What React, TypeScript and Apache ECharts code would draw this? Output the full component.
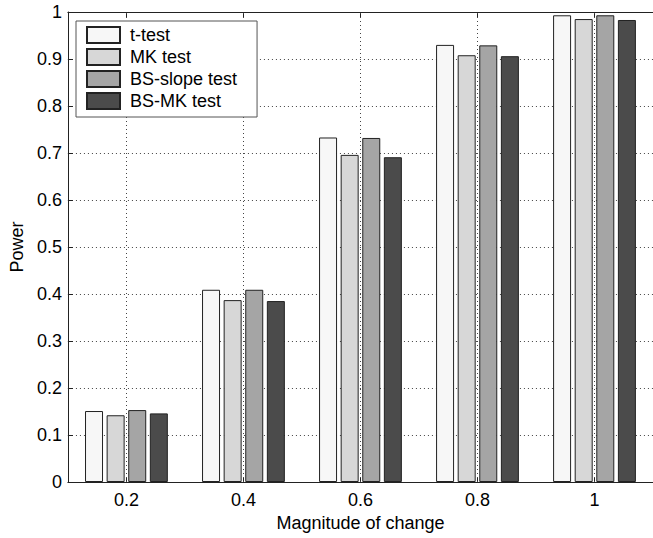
import React, { useEffect, useRef } from "react";
import * as echarts from "echarts";

const categories = ["0.2", "0.4", "0.6", "0.8", "1"];
const seriesNames = ["t-test", "MK test", "BS-slope test", "BS-MK test"];
const tTest = [0.151, 0.409, 0.733, 0.930, 0.993];
const mkTest = [0.142, 0.387, 0.696, 0.908, 0.985];
const bsSlope = [0.153, 0.409, 0.732, 0.929, 0.993];
const bsMk = [0.146, 0.385, 0.691, 0.906, 0.983];
const yTicks = [0, 0.1, 0.2, 0.3, 0.4, 0.5, 0.6, 0.7, 0.8, 0.9, 1];

const colors = ["#f7f7f7", "#d7d7d7", "#a5a5a5", "#4b4b4b"];
const FONT = "'Liberation Sans', Arial, sans-serif";

export default function App() {
  const ref = useRef<HTMLDivElement>(null);
  useEffect(() => {
    if (!ref.current) return;
    const chart = echarts.init(ref.current, null, { renderer: "svg" });
    const values = [tTest, mkTest, bsSlope, bsMk];
    const dotted = { color: "#444", width: 1, type: [1, 3] as any };
    const barSeries = seriesNames.map((name, i) => ({
      name,
      type: "bar",
      xAxisIndex: 0,
      data: values[i],
      barWidth: 18,
      barGap: "20%",
      z: 3,
      itemStyle: { color: colors[i], borderColor: "#222", borderWidth: 1 },
    }));
    chart.setOption({
      animation: false,
      backgroundColor: "#ffffff",
      textStyle: { fontFamily: FONT },
      grid: { left: 67, top: 12, width: 596, height: 470 },
      legend: {
        orient: "vertical",
        left: 76,
        top: 21,
        itemWidth: 33,
        itemHeight: 16,
        itemGap: 4,
        padding: [5, 20, 7, 10],
        backgroundColor: "#ffffff",
        borderColor: "#555",
        borderWidth: 1,
        borderRadius: 0,
        icon: "rect",
        z: 10,
        data: seriesNames,
        textStyle: { fontFamily: FONT, fontSize: 18, color: "#000", padding: [0, 0, 0, 5] },
      },
      xAxis: [
        {
          type: "category",
          data: categories,
          position: "bottom",
          name: "Magnitude of change",
          nameLocation: "middle",
          nameGap: 30,
          nameTextStyle: { fontFamily: FONT, fontSize: 18, color: "#000" },
          axisLine: { lineStyle: { color: "#222", width: 1 } },
          axisTick: { show: true, inside: true, alignWithLabel: true, length: 5, lineStyle: { color: "#222" } },
          axisLabel: { fontFamily: FONT, fontSize: 18, color: "#000", margin: 9 },
          splitLine: { show: false },
        },
        {
          type: "category",
          data: categories,
          position: "top",
          axisLine: { lineStyle: { color: "#222", width: 1 } },
          axisTick: { show: true, inside: true, alignWithLabel: true, length: 5, lineStyle: { color: "#222" } },
          axisLabel: { show: false },
          splitLine: { show: false },
        },
      ],
      yAxis: {
        type: "value",
        min: yTicks[0],
        max: yTicks[yTicks.length - 1],
        interval: 0.1,
        name: "Power",
        nameLocation: "middle",
        nameGap: 38,
        nameTextStyle: { fontFamily: FONT, fontSize: 18, color: "#000" },
        axisLine: { show: true, lineStyle: { color: "#222", width: 1 } },
        axisTick: { show: true, inside: true, length: 5, lineStyle: { color: "#222" } },
        axisLabel: { fontFamily: FONT, fontSize: 18, color: "#000", margin: 6 },
        splitLine: { show: true, lineStyle: dotted },
      },
      series: [
        {
          name: "vgrid",
          type: "line",
          xAxisIndex: 0,
          data: tTest,
          z: 1,
          silent: true,
          showSymbol: false,
          symbol: "none",
          lineStyle: { opacity: 0, width: 0 },
          tooltip: { show: false },
          markLine: {
            silent: true,
            symbol: ["none", "none"],
            label: { show: false },
            lineStyle: dotted,
            emphasis: { disabled: true },
            data: categories.map((c) => ({ xAxis: c })),
          },
        },
        ...barSeries,
      ],
    });
    return () => chart.dispose();
  }, []);
  return (
    <div
      ref={ref}
      style={{ position: "fixed", left: 0, top: 0, width: 653, height: 538, background: "#fff" }}
    />
  );
}
